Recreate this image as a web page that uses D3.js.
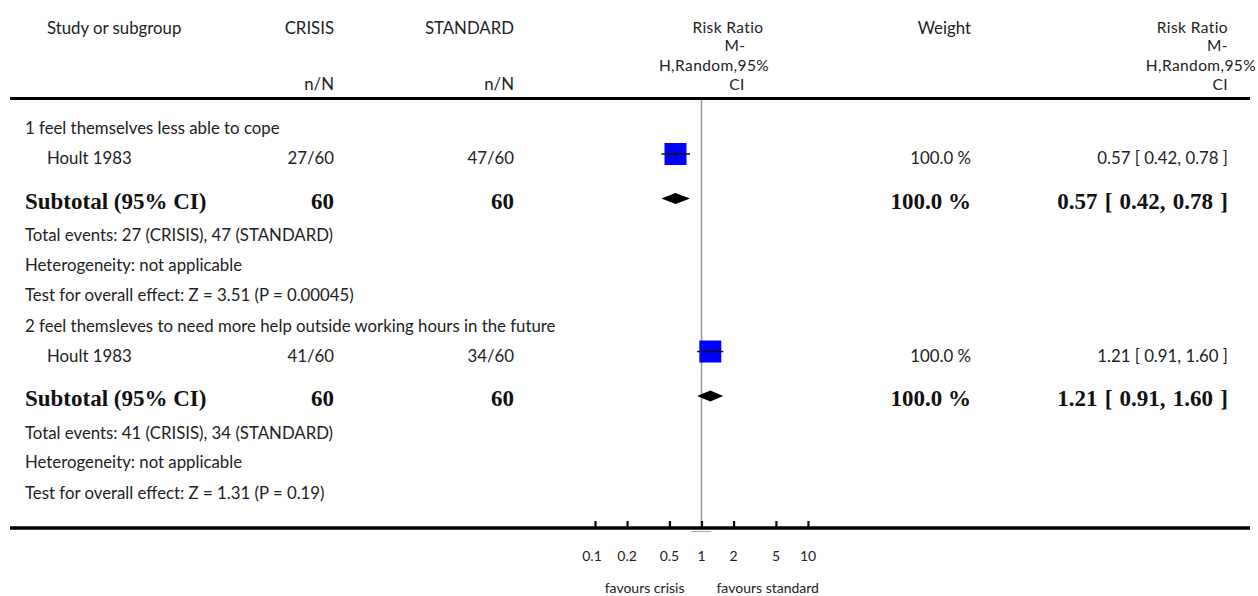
<!DOCTYPE html>
<html>
<head>
<meta charset="utf-8">
<script src="https://cdn.jsdelivr.net/npm/d3@7"></script>
<style>
  html, body { margin: 0; padding: 0; background: #fff; }
  svg { display: block; }
  .sans { font-family: Lato, "Open Sans", sans-serif; fill: #222; }
  .serif { font-family: "Liberation Serif", "DejaVu Serif", serif; font-weight: bold; fill: #111; }
</style>
</head>
<body>
<svg id="chart" width="1258" height="596"></svg>
<script>
// ---------- data ----------
const groupTitles = [
  "1 feel themselves less able to cope",
  "2 feel themsleves to need more help outside working hours in the future"
];
const studyNames = ["Hoult 1983", "Hoult 1983"];
const crisisEvents = [27, 41];
const crisisTotal = [60, 60];
const standardEvents = [47, 34];
const standardTotal = [60, 60];
const riskRatio = [0.57, 1.21];
const ciLower = [0.42, 0.91];
const ciUpper = [0.78, 1.60];
const weights = [100.0, 100.0];
const zValues = ["3.51", "1.31"];
const pValues = ["0.00045", "0.19"];
const tickValues = [0.1, 0.2, 0.5, 1, 2, 5, 10];
const tickLabels = ["0.1", "0.2", "0.5", "1", "2", "5", "10"];
const favourLeft = "favours crisis";
const favourRight = "favours standard";
const rrHeaderLines = ["Risk Ratio", "M-", "H,Random,95%", "CI"];

// ---------- layout ----------
const svg = d3.select("#chart");
const x = d3.scaleLog().domain([0.1, 10]).range([595, 808]);
const colCrisis = 334, colStandard = 514, colWeight = 971, colRR = 1228;
const groupTop = [0, 197.5];
const FS = 16.8, FB = 23, FT = 14, FH = 15.5;

function txt(g, cls, xPos, y, s, anchor, size) {
  return g.append("text").attr("class", cls).attr("x", xPos).attr("y", y)
    .attr("text-anchor", anchor || "start").style("font-size", size + "px").text(s);
}

// header
const hdr = svg.append("g");
txt(hdr, "sans", 47, 33.5, "Study or subgroup", "start", FS);
txt(hdr, "sans", colCrisis, 33.5, "CRISIS", "end", FS);
txt(hdr, "sans", colStandard, 33.5, "STANDARD", "end", FS);
txt(hdr, "sans", colCrisis, 89.5, "n/N", "end", FS);
txt(hdr, "sans", colStandard, 89.5, "n/N", "end", FS);
txt(hdr, "sans", colWeight, 33.5, "Weight", "end", FS);
const hY = [32.5, 51.2, 70.5, 89.5];
const hMidX = [728, 735, 714, 737];
const hRightX = [colRR, colRR, 1256, colRR];
rrHeaderLines.forEach((s, k) => {
  txt(hdr, "sans", hMidX[k], hY[k], s, "middle", FH).style("letter-spacing", "0.4px");
  txt(hdr, "sans", hRightX[k], hY[k], s, "end", FH).style("letter-spacing", "0.4px");
});

svg.append("line").attr("x1", 10).attr("x2", 1250).attr("y1", 98.5).attr("y2", 98.5)
  .attr("stroke", "#000").attr("stroke-width", 3);

// reference line at 1
svg.append("line").attr("x1", x(1)).attr("x2", x(1)).attr("y1", 100).attr("y2", 527)
  .attr("stroke", "#999").attr("stroke-width", 1.5);

const fmt2 = d3.format(".2f");
groupTitles.forEach((title, i) => {
  const off = groupTop[i];
  const g = svg.append("g").attr("transform", `translate(0,${off})`);
  txt(g, "sans", 25, 134, title, "start", FS);
  // study row
  txt(g, "sans", 47, 164, studyNames[i], "start", FS);
  txt(g, "sans", colCrisis, 164, crisisEvents[i] + "/" + crisisTotal[i], "end", FS);
  txt(g, "sans", colStandard, 164, standardEvents[i] + "/" + standardTotal[i], "end", FS);
  txt(g, "sans", colWeight, 164, weights[i].toFixed(1) + " %", "end", FS);
  txt(g, "sans", colRR, 164, `${fmt2(riskRatio[i])} [ ${fmt2(ciLower[i])}, ${fmt2(ciUpper[i])} ]`, "end", FS);
  const sy = 154, half = 11;
  g.append("rect").attr("x", x(riskRatio[i]) - half).attr("y", sy - half)
    .attr("width", 2 * half).attr("height", 2 * half).attr("fill", "#0000ff");
  g.append("line").attr("x1", x(ciLower[i])).attr("x2", x(ciUpper[i]))
    .attr("y1", sy).attr("y2", sy).attr("stroke", "#111").attr("stroke-width", 1.5);
  g.append("line").attr("x1", x(riskRatio[i])).attr("x2", x(riskRatio[i]))
    .attr("y1", sy - 3).attr("y2", sy + 3).attr("stroke", "#111").attr("stroke-width", 1);
  // subtotal row
  txt(g, "serif", 25, 208.5, "Subtotal (95% CI)", "start", FB);
  txt(g, "serif", colCrisis, 208.5, String(crisisTotal[i]), "end", FB);
  txt(g, "serif", colStandard, 208.5, String(standardTotal[i]), "end", FB);
  txt(g, "serif", colWeight, 208.5, weights[i].toFixed(1) + " %", "end", FB);
  txt(g, "serif", colRR, 208.5, `${fmt2(riskRatio[i])} [ ${fmt2(ciLower[i])}, ${fmt2(ciUpper[i])} ]`, "end", FB)
    .style("word-spacing", "1.5px");
  const dy = 198.5, dh = 5.5;
  const pts = [[x(ciLower[i]), dy], [x(riskRatio[i]), dy - dh], [x(ciUpper[i]), dy], [x(riskRatio[i]), dy + dh]];
  g.append("path").attr("d", d3.line()(pts) + "Z").attr("fill", "#000");
  txt(g, "sans", 25, 241, `Total events: ${crisisEvents[i]} (CRISIS), ${standardEvents[i]} (STANDARD)`, "start", FS);
  txt(g, "sans", 25, 270.5, "Heterogeneity: not applicable", "start", FS);
  txt(g, "sans", 25, 301, `Test for overall effect: Z = ${zValues[i]} (P = ${pValues[i]})`, "start", FS);
});

// axis
svg.append("line").attr("x1", 10).attr("x2", 1250).attr("y1", 528).attr("y2", 528)
  .attr("stroke", "#000").attr("stroke-width", 3.5);
svg.append("line").attr("x1", x(1) - 10).attr("x2", x(1) + 10).attr("y1", 531.5).attr("y2", 531.5)
  .attr("stroke", "#aaa").attr("stroke-width", 1);
const axis = d3.axisTop(x).tickValues(tickValues).tickFormat("").tickSize(6).tickSizeOuter(0);
const ag = svg.append("g").attr("transform", "translate(0,527)").call(axis);
ag.select(".domain").remove();
ag.selectAll(".tick line").attr("stroke", "#000").attr("stroke-width", 2.2);
tickValues.forEach((v, i) => {
  txt(svg, "sans", x(v) - (v === 0.1 ? 3 : 0), 561, tickLabels[i], "middle", FT);
});
txt(svg, "sans", x(1) - 17, 593, favourLeft, "end", FT);
txt(svg, "sans", x(1) + 15, 593, favourRight, "start", FT);
</script>
</body>
</html>
